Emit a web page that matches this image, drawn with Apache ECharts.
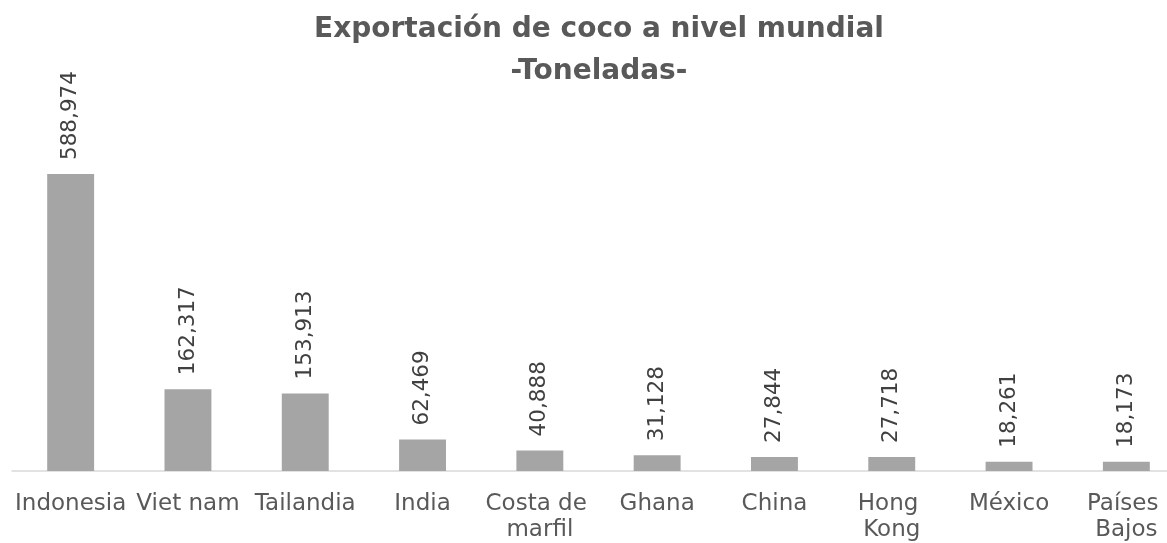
<!DOCTYPE html>
<html>
<head>
<meta charset="utf-8">
<script src="https://cdn.jsdelivr.net/npm/echarts@6/dist/echarts.min.js"></script>
<style>
html,body{margin:0;padding:0;background:#fff;}
#chart{width:1167px;height:543px;}
</style>
</head>
<body>
<div id="chart"></div>
<script>
var titleText = 'Exportación de coco a nivel mundial\n-Toneladas-';
var categories = ['Indonesia', 'Viet nam', 'Tailandia', 'India', 'Costa de marfil', 'Ghana', 'China', 'Hong Kong', 'México', 'Países Bajos'];
var values = [588974, 162317, 153913, 62469, 40888, 31128, 27844, 27718, 18261, 18173];

var FONT = '"Century Gothic", "DejaVu Sans", sans-serif';
var chart = echarts.init(document.getElementById('chart'));
chart.setOption({
  animation: false,
  backgroundColor: '#ffffff',
  title: {
    text: titleText,
    left: 599,
    top: 9,
    padding: 0,
    textAlign: 'center',
    textStyle: {
      fontFamily: FONT,
      fontWeight: 'bold',
      fontSize: 28,
      lineHeight: 42,
      color: '#595959'
    }
  },
  grid: {
    left: 12,
    width: 1173,
    top: 118,
    bottom: 72,
    containLabel: false,
    outerBoundsMode: 'none'
  },
  xAxis: {
    type: 'category',
    data: categories,
    axisLine: { show: true, lineStyle: { color: '#D9D9D9', width: 1.5 } },
    axisTick: { show: false },
    axisLabel: {
      interval: 0,
      margin: 20,
      fontFamily: FONT,
      fontSize: 23,
      lineHeight: 26,
      color: '#595959',
      width: 117,
      overflow: 'break'
    }
  },
  yAxis: {
    type: 'value',
    min: 0,
    max: 700000,
    show: false,
    splitLine: { show: false }
  },
  series: [{
    type: 'bar',
    data: values,
    barCategoryGap: '60%',
    itemStyle: { color: '#A5A5A5' },
    label: {
      show: true,
      position: 'top',
      rotate: 90,
      align: 'left',
      verticalAlign: 'middle',
      distance: 14,
      fontFamily: FONT,
      fontSize: 21.5,
      color: '#404040',
      formatter: function (p) { return p.value.toLocaleString('en-US'); }
    }
  }]
});
</script>
</body>
</html>
